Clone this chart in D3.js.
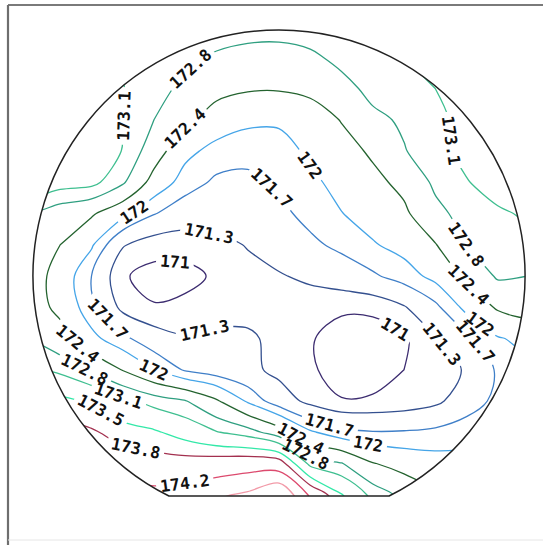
<!DOCTYPE html>
<html>
<head>
<meta charset="utf-8">
<script src="https://cdn.jsdelivr.net/npm/d3@7"></script>
<style>
  html, body { margin: 0; padding: 0; background: #fff; }
  svg { display: block; }
</style>
</head>
<body>
<svg id="chart" width="543" height="545"></svg>
<script>
// Contour levels of the thickness map and the colour of each line
const levels = [171, 171.3, 171.7, 172, 172.4, 172.8, 173.1, 173.5, 173.8, 174.2, 174.5];
const levelColors = ["#3c2c70", "#34508f", "#3f7fc8", "#45a5e8", "#24632f", "#2f9f80",
                     "#3fbf90", "#33e8a8", "#a3304f", "#dc4a6e", "#f29aa8"];

// Thickness map on a regular 17 x 17 grid, rows top to bottom, columns left to right
const thicknessMap = [
  [173.6, 173.5, 173.4, 173.3, 173.15, 173.05, 173.0, 172.95, 172.95, 173.0, 173.05, 173.1, 173.2, 173.3, 173.4, 173.4, 173.3],
  [173.4, 173.35, 173.25, 173.1, 172.95, 172.88, 172.75, 172.68, 172.66, 172.73, 172.9, 173.0, 173.1, 173.2, 173.3, 173.35, 173.3],
  [173.5, 173.4, 173.25, 173.11, 172.92, 172.72, 172.52, 172.44, 172.43, 172.5, 172.68, 172.9, 173.0, 173.1, 173.25, 173.35, 173.3],
  [173.6, 173.4, 173.25, 173.11, 172.8, 172.5, 172.22, 172.08, 172.06, 172.18, 172.42, 172.72, 172.85, 173.02, 173.2, 173.3, 173.2],
  [173.7, 173.45, 173.3, 173.09, 172.6, 172.1, 171.88, 171.8, 171.85, 172.07, 172.25, 172.46, 172.78, 172.98, 173.2, 173.35, 173.3],
  [173.4, 173.25, 173.2, 172.85, 172.25, 171.85, 171.64, 171.63, 171.75, 171.92, 172.12, 172.3, 172.5, 172.87, 173.08, 173.25, 173.2],
  [172.75, 172.6, 172.45, 172.12, 171.72, 171.5, 171.5, 171.45, 171.62, 171.8, 171.99, 172.15, 172.33, 172.7, 172.93, 173.05, 173.15],
  [172.6, 172.4, 172.05, 171.33, 171.12, 171.12, 171.2, 171.32, 171.48, 171.63, 171.78, 171.97, 172.12, 172.38, 172.8, 172.93, 173.0],
  [172.6, 172.25, 171.7, 171.03, 170.9, 170.9, 171.05, 171.2, 171.27, 171.38, 171.5, 171.65, 171.85, 172.1, 172.48, 172.85, 172.8],
  [172.6, 172.3, 171.8, 171.2, 171.02, 171.08, 171.15, 171.18, 171.15, 171.1, 171.06, 171.08, 171.27, 171.62, 172.1, 172.45, 172.55],
  [172.8, 172.55, 172.1, 171.78, 171.48, 171.33, 171.38, 171.36, 171.2, 171.03, 170.85, 170.82, 170.95, 171.27, 171.62, 171.97, 172.1],
  [173.2, 173.02, 172.75, 172.38, 172.0, 171.66, 171.52, 171.4, 171.2, 171.05, 170.85, 170.82, 171.0, 171.15, 171.33, 171.75, 171.9],
  [173.9, 173.6, 173.45, 173.2, 172.98, 172.82, 172.45, 171.95, 171.5, 171.2, 171.02, 171.05, 171.1, 171.22, 171.5, 171.8, 172.0],
  [174.3, 174.0, 173.85, 173.65, 173.55, 173.35, 173.12, 172.95, 172.6, 172.05, 171.8, 171.72, 171.73, 171.78, 171.9, 172.05, 172.2],
  [174.6, 174.4, 174.2, 174.0, 173.95, 173.95, 174.0, 174.05, 174.0, 173.0, 172.82, 172.42, 172.25, 172.15, 172.1, 172.1, 172.2],
  [175.0, 174.8, 174.6, 174.4, 174.3, 174.35, 174.45, 174.55, 174.8, 174.15, 173.52, 173.0, 172.7, 172.45, 172.3, 172.3, 172.4],
  [175.3, 175.1, 174.9, 174.7, 174.6, 174.7, 174.8, 174.9, 175.0, 174.5, 173.9, 173.3, 172.9, 172.6, 172.5, 172.5, 172.6]
];

// Where the inline labels go: contour level and a point near which it is written
const labelSpots = [
  [173.1, 125, 116], [172.8, 194, 73], [172.4, 187, 130], [172, 135, 213],
  [171.7, 270, 190], [171.3, 208, 240], [171, 175, 262], [172, 310, 165],
  [173.1, 455, 140], [172.8, 465, 245], [172.4, 470, 283], [172, 483, 320],
  [171.7, 473, 343], [171.3, 443, 343], [171, 397, 326], [171.7, 112, 315],
  [172.4, 85, 333], [171.3, 205, 332], [172.8, 90, 360], [172, 153, 372],
  [173.1, 120, 392], [173.5, 100, 412], [171.7, 330, 423], [172, 368, 445],
  [172.4, 300, 440], [172.8, 305, 455], [173.8, 135, 452], [174.2, 185, 485]
];

const W = 543, H = 545;
const svg = d3.select("#chart");

// wafer outline: circle with a flat at the bottom
const cx = 279, cy = 276, R = 246, flatY = 496;
const half = Math.sqrt(R * R - (flatY - cy) * (flatY - cy));
const waferPath = `M${cx - half},${flatY} A${R},${R} 0 1 1 ${cx + half},${flatY} Z`;

// grid -> pixel scales (contour coordinates put sample i at i + 0.5)
const nx = thicknessMap[0].length, ny = thicknessMap.length;
const gx0 = 29, gy0 = 26, step = 31.25;
const xScale = d3.scaleLinear().domain([0.5, nx - 0.5]).range([gx0, gx0 + step * (nx - 1)]);
const yScale = d3.scaleLinear().domain([0.5, ny - 0.5]).range([gy0, gy0 + step * (ny - 1)]);

const contourSets = d3.contours().size([nx, ny]).thresholds(levels)(thicknessMap.flat());
const ringsByLevel = contourSets.map(set =>
  set.coordinates.flatMap(poly => poly.map(ring => ring.map(([u, v]) => [xScale(u), yScale(v)]))));

const defs = svg.append("defs");
defs.append("clipPath").attr("id", "wafer-clip").append("path").attr("d", waferPath);

// frame
svg.append("rect").attr("x", 0).attr("y", 0).attr("width", W).attr("height", H).attr("fill", "#fff");
svg.append("line").attr("x1", 8).attr("y1", 5).attr("x2", W).attr("y2", 5)
  .attr("stroke", "#7a7a7a").attr("stroke-width", 2.2);
svg.append("line").attr("x1", 8).attr("y1", 5).attr("x2", 8).attr("y2", H)
  .attr("stroke", "#6e6e6e").attr("stroke-width", 2.2);
svg.append("line").attr("x1", 8).attr("y1", 540).attr("x2", W).attr("y2", 540)
  .attr("stroke", "#e6e6e6").attr("stroke-width", 1);

const lineLayer = svg.append("g").attr("clip-path", "url(#wafer-clip)");
const labelLayer = svg.append("g");

const isInside = (x, y) => y < flatY - 2 && (x - cx) ** 2 + (y - cy) ** 2 < (R - 2) ** 2;

function nearestOnRings(rings, px, py) {
  let best = null;
  rings.forEach(ring => {
    for (let k = 0; k < ring.length - 1; k++) {
      const [x1, y1] = ring[k], [x2, y2] = ring[k + 1];
      const dx = x2 - x1, dy = y2 - y1, L2 = dx * dx + dy * dy || 1;
      let t = ((px - x1) * dx + (py - y1) * dy) / L2;
      t = Math.max(0, Math.min(1, t));
      const qx = x1 + t * dx, qy = y1 + t * dy;
      if (!isInside(qx, qy)) continue;
      const d = (qx - px) ** 2 + (qy - py) ** 2;
      if (!best || d < best.d) best = { d, ring, k, t, qx, qy };
    }
  });
  return best;
}

function pointAlong(ring, cum, s) {
  const total = cum[cum.length - 1];
  s = ((s % total) + total) % total;
  let k = d3.bisectRight(cum, s) - 1;
  k = Math.max(0, Math.min(ring.length - 2, k));
  const seg = cum[k + 1] - cum[k] || 1, t = (s - cum[k]) / seg;
  return [ring[k][0] + t * (ring[k + 1][0] - ring[k][0]), ring[k][1] + t * (ring[k + 1][1] - ring[k][1])];
}

// labels first, so each line can leave a gap under its own labels
const gaps = levels.map(() => []);
labelSpots.forEach(([lv, px, py]) => {
  const li = levels.indexOf(lv);
  const hit = nearestOnRings(ringsByLevel[li], px, py);
  if (!hit) return;
  const ring = hit.ring, cum = [0];
  for (let k = 1; k < ring.length; k++)
    cum.push(cum[k - 1] + Math.hypot(ring[k][0] - ring[k - 1][0], ring[k][1] - ring[k - 1][1]));
  const s0 = cum[hit.k] + hit.t * (cum[hit.k + 1] - cum[hit.k]);
  const a = pointAlong(ring, cum, s0 - 14), b = pointAlong(ring, cum, s0 + 14);
  let ang = Math.atan2(b[1] - a[1], b[0] - a[0]) * 180 / Math.PI;
  if (ang > 90) ang -= 180;
  if (ang <= -90) ang += 180;
  const text = labelLayer.append("text")
    .attr("transform", `translate(${hit.qx},${hit.qy}) rotate(${ang})`)
    .attr("text-anchor", "middle")
    .attr("dy", "0.36em")
    .attr("font-family", "'DejaVu Sans Mono', monospace")
    .attr("font-weight", "bold")
    .attr("font-size", 16.5)
    .attr("fill", "#111")
    .text(String(lv));
  const w = text.node().getComputedTextLength();
  gaps[li].push({ x: hit.qx, y: hit.qy, ang, w: w + 8 });
});

// one mask per level that cuts the line under its labels
levels.forEach((lv, i) => {
  const m = defs.append("mask").attr("id", `gap-${i}`)
    .attr("maskUnits", "userSpaceOnUse").attr("x", 0).attr("y", 0).attr("width", W).attr("height", H);
  m.append("rect").attr("x", 0).attr("y", 0).attr("width", W).attr("height", H).attr("fill", "#fff");
  gaps[i].forEach(g => {
    m.append("rect").attr("x", -g.w / 2).attr("y", -8).attr("width", g.w).attr("height", 16)
      .attr("transform", `translate(${g.x},${g.y}) rotate(${g.ang})`).attr("fill", "#000");
  });
});

const lineGen = d3.line().curve(d3.curveCatmullRomClosed.alpha(0.5));
ringsByLevel.forEach((rings, i) => {
  const g = lineLayer.append("g").attr("mask", `url(#gap-${i})`);
  rings.forEach(ring => {
    g.append("path")
      .attr("d", lineGen(ring.slice(0, -1)))
      .attr("fill", "none")
      .attr("stroke", levelColors[i])
      .attr("stroke-width", 1.3)
      .attr("stroke-linejoin", "round");
  });
});

// wafer edge
svg.append("path").attr("d", waferPath).attr("fill", "none")
  .attr("stroke", "#222").attr("stroke-width", 1.5);

labelLayer.raise();
</script>
</body>
</html>
